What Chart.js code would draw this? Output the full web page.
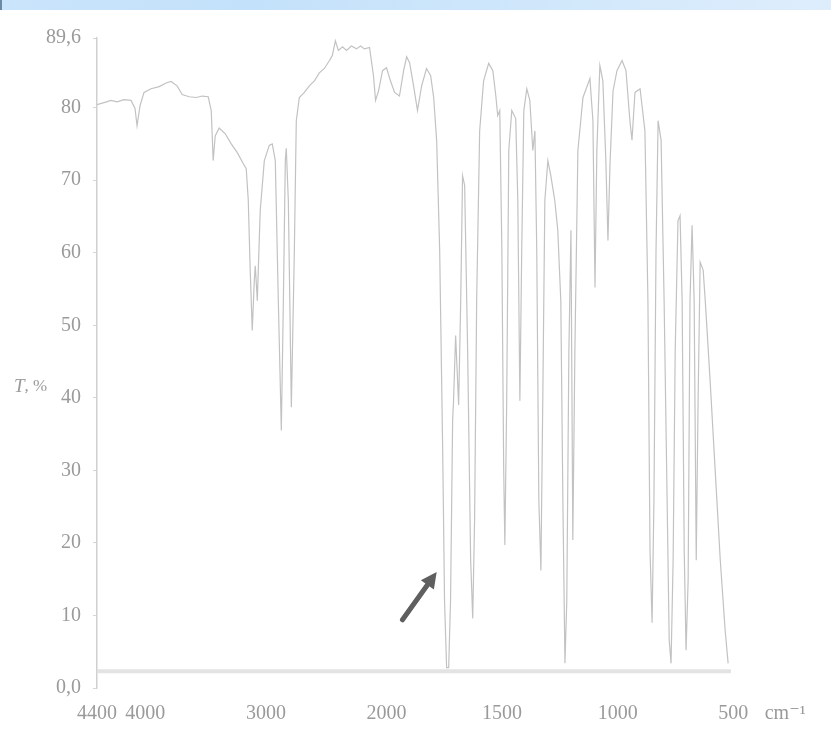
<!DOCTYPE html>
<html>
<head>
<meta charset="utf-8">
<script src="https://cdn.jsdelivr.net/npm/chart.js@4/dist/chart.umd.min.js"></script>
<style>
  html, body { margin: 0; padding: 0; background: #ffffff; }
  #wrap { position: relative; width: 831px; height: 733px; overflow: hidden; background: #fff; }
  #band { position: absolute; left: 0; top: 0; width: 831px; height: 10px;
          background: linear-gradient(to right, #c9e4fb 0%, #c3e1fa 30%, #d2e8fb 70%, #deedfc 100%);
          border-left: 2px solid #6c8aa5; box-sizing: border-box; }
  canvas { position: absolute; left: 0; top: 0; }
</style>
</head>
<body>
<div id="wrap">
  <canvas id="c" width="831" height="733"></canvas>
  <div id="band"></div>
</div>
<script>
// ---- data (wavenumber, cm-1  /  transmittance, %) ----
const WAVENUMBERS = [
  4400, 4342, 4284, 4234, 4176, 4118, 4085, 4068, 4043, 4010, 3952, 3885, 3827, 3786, 3736, 3694,
  3636, 3578, 3528, 3478, 3453, 3437, 3420, 3387, 3337, 3287, 3237, 3188, 3163, 3146, 3130, 3113,
  3096, 3088, 3071, 3047, 3013, 2972, 2947, 2922, 2897, 2872, 2855, 2839, 2831, 2814, 2789, 2764,
  2748, 2723, 2681, 2640, 2598, 2557, 2515, 2473, 2449, 2424, 2399, 2365, 2332, 2291, 2249, 2216,
  2183, 2141, 2108, 2091, 2066, 2033, 2000, 1983, 1965, 1944, 1926, 1913, 1900, 1883, 1866, 1848,
  1827, 1809, 1796, 1783, 1770, 1757, 1749, 1740, 1731, 1723, 1714, 1710, 1701, 1688, 1679, 1671,
  1662, 1649, 1636, 1627, 1619, 1610, 1597, 1580, 1558, 1540, 1527, 1519, 1510, 1501, 1493, 1488,
  1480, 1471, 1458, 1441, 1432, 1423, 1415, 1406, 1393, 1380, 1367, 1358, 1350, 1341, 1332, 1324,
  1315, 1302, 1289, 1272, 1259, 1246, 1237, 1228, 1220, 1211, 1202, 1194, 1185, 1172, 1150, 1120,
  1107, 1098, 1090, 1077, 1064, 1051, 1042, 1033, 1020, 1003, 981, 964, 947, 938, 925, 903,
  882, 869, 860, 851, 843, 834, 825, 812, 799, 786, 777, 769, 760, 751, 739, 730,
  721, 712, 704, 695, 687, 678, 669, 660, 652, 643, 630, 621, 600, 578, 556, 535, 522
];
const TRANSMITTANCE = [
  80.4, 80.7, 81.0, 80.8, 81.1, 81.0, 79.9, 77.5, 80.3, 82.1, 82.6, 82.9, 83.4, 83.6, 83.0, 81.8,
  81.5, 81.4, 81.6, 81.5, 79.6, 72.7, 76.1, 77.2, 76.4, 75.0, 73.8, 72.3, 71.6, 67.2, 57.6, 49.3,
  56.2, 58.2, 53.4, 65.8, 72.7, 74.8, 75.0, 72.7, 53.4, 35.5, 53.4, 72.7, 74.4, 67.2, 38.7, 60.3,
  78.2, 81.4, 82.1, 83.0, 83.7, 84.8, 85.4, 86.5, 87.2, 89.2, 87.9, 88.4, 87.9, 88.5, 88.1, 88.5,
  88.1, 88.3, 84.4, 81.0, 82.3, 85.1, 85.5, 83.7, 82.1, 81.6, 85.1, 87.0, 86.2, 83.0, 79.6, 83.0,
  85.4, 84.4, 81.4, 75.4, 60.3, 32.8, 12.1, 2.8, 2.8, 12.1, 36.9, 39.6, 48.6, 39.0, 53.4, 70.6,
  69.3, 46.5, 17.6, 9.6, 23.1, 53.4, 76.8, 83.7, 86.1, 85.1, 81.6, 78.9, 79.6, 60.3, 30.0, 19.7,
  39.6, 74.1, 79.6, 78.5, 67.2, 39.6, 60.3, 79.6, 82.6, 81.0, 74.1, 76.8, 60.3, 25.9, 16.2, 39.6,
  67.2, 72.7, 70.6, 67.2, 63.1, 53.4, 25.9, 3.4, 12.1, 46.5, 63.1, 20.4, 46.5, 74.1, 81.4, 84.0,
  78.2, 55.2, 74.1, 85.8, 83.7, 72.7, 61.7, 72.3, 82.3, 85.1, 86.5, 85.1, 78.2, 75.5, 82.1, 82.6,
  76.8, 53.4, 19.0, 9.0, 25.9, 60.3, 78.2, 75.5, 53.4, 25.9, 6.6, 3.4, 17.6, 46.5, 64.4, 65.1,
  53.4, 19.0, 5.2, 14.9, 53.4, 63.8, 53.4, 17.6, 39.6, 58.7, 57.6, 53.4, 42.4, 30.0, 17.6, 8.0, 3.4
];
const BASELINE_X = [4400, 510];
const BASELINE_Y = [2.3, 2.3];
const X_TICKS = [4400, 4000, 3000, 2000, 1500, 1000, 500, 275];
const X_TICK_LABELS = ['4400', '4000', '3000', '2000', '1500', '1000', '500', 'cm\u207B\u00B9'];
const Y_TICKS = [0, 10, 20, 30, 40, 50, 60, 70, 80, 89.6];
const Y_TICK_LABELS = ['0,0', '10', '20', '30', '40', '50', '60', '70', '80', '89,6'];
const Y_TITLE = ['T', ', %'];
const ARROW_FROM = [1931, 9.4];
const ARROW_TO = [1783, 16.0];

// ---- axis with the usual 2x scale change at 2000 cm-1 ----
const BREAK = 2000, RATIO = 1.916;
class IRBreakScale extends Chart.LinearScale {
  _u(v) { return v >= BREAK ? (this.max - v) : (this.max - BREAK) + (BREAK - v) * RATIO; }
  getPixelForValue(v) {
    const total = this._u(this.min);
    return this.left + (this._u(v) / total) * this.width;
  }
  getValueForPixel(p) {
    const total = this._u(this.min);
    const u = (p - this.left) / this.width * total;
    const uB = this.max - BREAK;
    return u <= uB ? this.max - u : BREAK - (u - uB) / RATIO;
  }
}
IRBreakScale.id = 'irbreak';
IRBreakScale.defaults = Chart.LinearScale.defaults;
Chart.register(IRBreakScale);

const FONT = { family: "'Liberation Serif', 'DejaVu Serif', serif", size: 20 };
const TEXT = '#9a9a9a';

const extras = {
  id: 'extras',
  afterDatasetsDraw(chart) {
    const { ctx, scales: { x, y } } = chart;
    ctx.save();
    // y title
    ctx.fillStyle = TEXT;
    ctx.textBaseline = 'middle';
    ctx.textAlign = 'left';
    ctx.font = "italic 19px 'Liberation Serif', serif";
    const ty = y.getPixelForValue(41.5);
    ctx.fillText(Y_TITLE[0], 14, ty);
    const w = ctx.measureText(Y_TITLE[0]).width;
    ctx.font = "17px 'Liberation Serif', serif";
    ctx.fillText(Y_TITLE[1], 14 + w, ty);
    // arrow
    const x0 = x.getPixelForValue(ARROW_FROM[0]), y0 = y.getPixelForValue(ARROW_FROM[1]);
    const x1 = x.getPixelForValue(ARROW_TO[0]), y1 = y.getPixelForValue(ARROW_TO[1]);
    const ang = Math.atan2(y1 - y0, x1 - x0);
    const head = 16;
    const bx = x1 - Math.cos(ang) * head, by = y1 - Math.sin(ang) * head;
    ctx.strokeStyle = '#5f5f5f';
    ctx.fillStyle = '#5f5f5f';
    ctx.lineWidth = 5;
    ctx.lineCap = 'round';
    ctx.beginPath(); ctx.moveTo(x0, y0); ctx.lineTo(bx, by); ctx.stroke();
    ctx.beginPath();
    ctx.moveTo(x1, y1);
    ctx.lineTo(bx + Math.cos(ang + Math.PI / 2) * 8, by + Math.sin(ang + Math.PI / 2) * 8);
    ctx.lineTo(bx + Math.cos(ang - Math.PI / 2) * 8, by + Math.sin(ang - Math.PI / 2) * 8);
    ctx.closePath(); ctx.fill();
    ctx.restore();
  }
};

new Chart(document.getElementById('c'), {
  type: 'line',
  data: {
    datasets: [
      {
        label: 'baseline',
        data: BASELINE_X.map((v, i) => ({ x: v, y: BASELINE_Y[i] })),
        borderColor: '#e3e3e3', borderWidth: 4, pointRadius: 0, order: 2
      },
      {
        label: 'IR spectrum',
        data: WAVENUMBERS.map((v, i) => ({ x: v, y: TRANSMITTANCE[i] })),
        borderColor: '#c2c2c2', borderWidth: 1.2, pointRadius: 0, tension: 0, order: 1
      }
    ]
  },
  options: {
    responsive: false, animation: false, devicePixelRatio: 1,
    layout: { padding: { left: 0, right: 40, top: 38, bottom: 0 } },
    plugins: { legend: { display: false }, tooltip: { enabled: false } },
    scales: {
      x: {
        type: 'irbreak', min: 250, max: 4400,
        afterFit(s) { s.height = 45; },
        afterBuildTicks(s) { s.ticks = X_TICKS.map(v => ({ value: v })); },
        grid: { display: false, drawTicks: false },
        border: { display: false },
        ticks: {
          autoSkip: false, maxRotation: 0, padding: 14, color: TEXT, font: FONT,
          callback: (v) => X_TICK_LABELS[X_TICKS.indexOf(v)]
        }
      },
      y: {
        min: 0, max: 89.6,
        afterFit(s) { s.width = 97; },
        afterBuildTicks(s) { s.ticks = Y_TICKS.map(v => ({ value: v })); },
        grid: { drawOnChartArea: false, drawTicks: true, tickLength: 4, color: '#d6d6d6' },
        border: { display: true, color: '#d0d0d0', width: 1.5 },
        ticks: {
          autoSkip: false, padding: 12, color: TEXT, font: FONT,
          callback: (v) => Y_TICK_LABELS[Y_TICKS.indexOf(v)]
        }
      }
    }
  },
  plugins: [extras]
});
</script>
</body>
</html>
